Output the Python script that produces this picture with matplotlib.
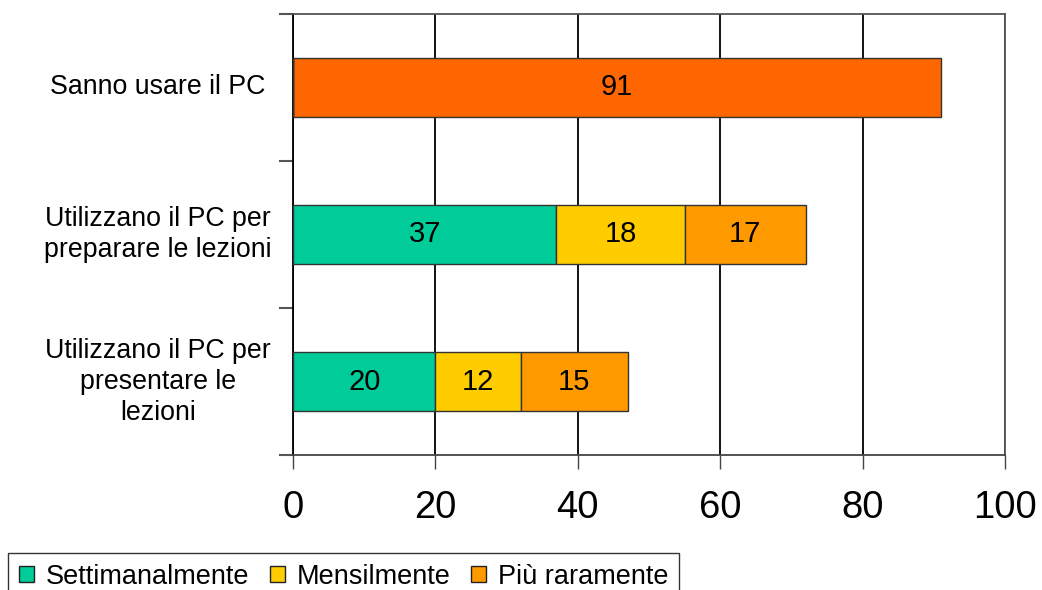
import numpy as np
import matplotlib
matplotlib.use("Agg")
import matplotlib.pyplot as plt
from matplotlib.patches import Patch

plt.rcParams['font.family'] = ['Liberation Sans', 'DejaVu Sans']

# dati (percentuali)
categorie = ["Sanno usare il PC",
             "Utilizzano il PC per\npreparare le lezioni",
             "Utilizzano il PC per\npresentare le\nlezioni"]
sanno_usare = [91, 0, 0]
settimanalmente = [0, 37, 20]
mensilmente = [0, 18, 12]
piu_raramente = [0, 17, 15]
serie_nomi = ["Settimanalmente", "Mensilmente", "Più raramente"]
colori = ["#00CC99", "#FFCC00", "#FF9900"]
colore_pc = "#FF6600"
x_ticks = [0, 20, 40, 60, 80, 100]

fig = plt.figure(figsize=(10.42, 5.90), dpi=100)
ax = fig.add_axes([0.2812, 0.2288, 0.6833, 0.7475])

y = np.array([2, 1, 0])
h = 0.4

def etichette(barre, valori):
    for b, v in zip(barre, valori):
        if v > 0:
            ax.text(b.get_x() + b.get_width() / 2, b.get_y() + b.get_height() / 2,
                    str(v), ha='center', va='center', fontsize=21, color='black')

b0 = ax.barh(y, sanno_usare, height=h, color=colore_pc, edgecolor='#333333', linewidth=1, zorder=3)
etichette(b0, sanno_usare)

left = np.zeros(3)
for vals, col in zip([settimanalmente, mensilmente, piu_raramente], colori):
    b = ax.barh(y, vals, left=left, height=h, color=col, edgecolor='#333333', linewidth=1, zorder=3)
    etichette(b, vals)
    left += np.array(vals)

ax.set_xlim(0, 100)
ax.set_ylim(-0.5, 2.5)
ax.set_xticks(x_ticks)
ax.set_xticklabels([str(t) for t in x_ticks], fontsize=27.5)
ax.tick_params(axis='x', length=10, width=1, color='#444444', pad=15)
ax.set_yticks([-0.5, 0.5, 1.5, 2.5])
ax.set_yticklabels([])
ax.tick_params(axis='y', length=10, width=1.5, color='#555555')

ax.xaxis.grid(True, color='black', linewidth=1.3, zorder=0)
ax.set_axisbelow(True)

for lato in ['top', 'right']:
    ax.spines[lato].set_color('#555555')
    ax.spines[lato].set_linewidth(1.3)
ax.spines['left'].set_color('black')
ax.spines['left'].set_linewidth(1.3)
ax.spines['bottom'].set_color('#444444')
ax.spines['bottom'].set_linewidth(1.3)

# etichette delle categorie, centrate
for yi, cat in zip(y, categorie):
    ax.text(-0.19, yi, cat, transform=ax.get_yaxis_transform(),
            ha='center', va='center', fontsize=19.3, linespacing=1.25)

handles = [Patch(facecolor=c, edgecolor='#222222', linewidth=1) for c in colori]
leg = fig.legend(handles, serie_nomi, loc='upper left',
                 bbox_to_anchor=(0.0077, 1 - 553 / 590), ncol=3, fontsize=19.5,
                 frameon=True, fancybox=False, handlelength=0.55, handleheight=0.55,
                 handletextpad=0.45, columnspacing=0.75, borderpad=0.4, borderaxespad=0)
leg.get_frame().set_edgecolor('black')
leg.get_frame().set_linewidth(1)

fig.savefig("out.png", dpi=100)
